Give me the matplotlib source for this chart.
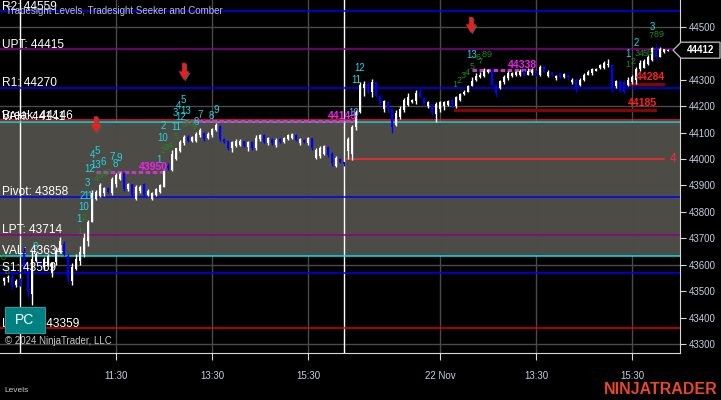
import numpy as np
import matplotlib.pyplot as plt
from matplotlib.patches import Rectangle, Polygon

plt.rcParams['font.family'] = ['Liberation Sans', 'DejaVu Sans']

# --- levels (Tradesight Levels) ---
level_names = ['R2', 'UPT', 'R1', 'VAH', 'Break', 'Pivot', 'LPT', 'VAL', 'S1', 'LBreak']
level_values = [44559, 44415, 44270, 44141, 44146, 43858, 43714, 43634, 43569, 43359]
level_colors = ['#0000ff', '#8b008b', '#0000ff', '#00e5e5', '#ff1a1a',
                '#0000ff', '#8b008b', '#00e5e5', '#0000ff', '#e00000']

# --- 5 min bars (open, high, low, close), slot 1..167 ---
prev_bars = [(43540, 43555, 43525, 43548), (43548, 43560, 43535, 43552),
             (43552, 43570, 43510, 43525), (43525, 43545, 43515, 43540),
             (43540, 43548, 43520, 43525)]
day1_bars = [
    (43650, 43667, 43569, 43580), (43585, 43592, 43478, 43495), (43490, 43656, 43448, 43620),
    (43615, 43650, 43610, 43640), (43615, 43618, 43590, 43595), (43590, 43630, 43580, 43620),
    (43600, 43640, 43595, 43635), (43570, 43611, 43555, 43605), (43610, 43667, 43600, 43650),
    (43650, 43706, 43645, 43690), (43680, 43690, 43635, 43640), (43635, 43640, 43530, 43545),
    (43540, 43605, 43523, 43590), (43585, 43640, 43580, 43620), (43615, 43670, 43600, 43650),
    (43640, 43720, 43630, 43700), (43690, 43770, 43670, 43760), (43760, 43883, 43760, 43870),
    (43850, 43883, 43845, 43875), (43860, 43910, 43855, 43900), (43870, 43895, 43860, 43890),
    (43890, 43895, 43870, 43875), (43870, 43932, 43865, 43925), (43905, 43948, 43895, 43940),
    (43925, 43950, 43920, 43945), (43948, 43950, 43880, 43885), (43885, 43910, 43880, 43905),
    (43905, 43905, 43860, 43865), (43850, 43902, 43845, 43895), (43880, 43900, 43870, 43895),
    (43905, 43910, 43860, 43865), (43865, 43885, 43860, 43880), (43850, 43875, 43845, 43870),
    (43865, 43890, 43860, 43885), (43875, 43905, 43870, 43900), (43895, 43960, 43895, 43955),
    (43975, 43985, 43960, 43965), (43960, 44035, 43955, 44020), (44000, 44042, 43995, 44040),
    (44030, 44072, 44025, 44065), (44060, 44091, 44053, 44085), (44085, 44090, 44065, 44070),
    (44070, 44088, 44066, 44082), (44070, 44102, 44065, 44095), (44090, 44118, 44085, 44110),
    (44100, 44102, 44070, 44075), (44080, 44102, 44075, 44095), (44090, 44118, 44085, 44112),
    (44110, 44138, 44105, 44130), (44125, 44130, 44068, 44075), (44075, 44078, 44060, 44065),
    (44070, 44072, 44035, 44040), (44040, 44070, 44025, 44065), (44050, 44075, 44045, 44070),
    (44055, 44075, 44050, 44070), (44068, 44070, 44045, 44050), (44045, 44070, 44030, 44065),
    (44065, 44068, 44035, 44040), (44040, 44090, 44035, 44080), (44075, 44095, 44070, 44090),
    (44090, 44093, 44062, 44065), (44060, 44085, 44055, 44080), (44075, 44078, 44053, 44060),
    (44055, 44078, 44045, 44072), (44075, 44078, 44062, 44065), (44065, 44082, 44062, 44080),
    (44075, 44095, 44072, 44090), (44080, 44100, 44075, 44095), (44090, 44095, 44068, 44072),
    (44060, 44078, 44055, 44075), (44072, 44076, 44062, 44064), (44060, 44085, 44055, 44080),
    (44078, 44080, 44035, 44040), (44005, 44042, 44000, 44035), (44010, 44048, 44005, 44040),
    (44020, 44055, 44015, 44050), (44045, 44050, 44008, 44015), (44020, 44025, 43975, 43985),
    (43975, 44010, 43970, 44005), (44000, 44005, 43985, 43990), (43990, 43990, 43975, 43980)]
day2_bars = [
    (44030, 44085, 44000, 44075), (44020, 44130, 43995, 44120), (44120, 44185, 44110, 44180),
    (44180, 44290, 44175, 44280), (44270, 44295, 44240, 44285), (44285, 44290, 44250, 44255),
    (44255, 44303, 44235, 44290), (44290, 44295, 44235, 44240), (44240, 44245, 44205, 44210),
    (44190, 44225, 44180, 44220), (44215, 44220, 44175, 44190), (44190, 44195, 44100, 44120),
    (44130, 44185, 44125, 44175), (44160, 44200, 44150, 44190), (44185, 44230, 44180, 44225),
    (44205, 44250, 44200, 44235), (44215, 44228, 44212, 44225), (44220, 44260, 44210, 44250),
    (44255, 44265, 44230, 44235), (44230, 44235, 44205, 44210), (44200, 44220, 44195, 44215),
    (44210, 44210, 44165, 44175), (44170, 44215, 44140, 44210), (44190, 44220, 44180, 44215),
    (44200, 44220, 44185, 44215), (44205, 44225, 44200, 44220), (44225, 44230, 44195, 44200),
    (44200, 44240, 44195, 44235), (44225, 44250, 44220, 44245), (44245, 44262, 44243, 44255),
    (44255, 44280, 44255, 44275), (44275, 44310, 44275, 44295), (44300, 44325, 44295, 44315),
    (44310, 44330, 44305, 44320), (44315, 44345, 44310, 44335), (44330, 44340, 44325, 44338),
    (44338, 44340, 44275, 44280), (44280, 44285, 44235, 44250), (44270, 44300, 44265, 44295),
    (44290, 44320, 44285, 44310), (44305, 44335, 44300, 44325), (44315, 44330, 44310, 44325),
    (44318, 44335, 44315, 44330), (44320, 44340, 44315, 44335), (44335, 44338, 44315, 44320),
    (44320, 44343, 44318, 44335), (44325, 44343, 44320, 44338), (44335, 44338, 44315, 44320),
    (44320, 44356, 44315, 44350), (44350, 44356, 44328, 44330), (44315, 44337, 44310, 44330),
    (44330, 44330, 44315, 44320), (44305, 44320, 44300, 44315), (44325, 44328, 44305, 44310),
    (44310, 44325, 44305, 44322), (44320, 44322, 44300, 44305), (44290, 44305, 44285, 44300),
    (44300, 44305, 44255, 44260), (44280, 44305, 44275, 44300), (44300, 44325, 44295, 44318),
    (44320, 44337, 44318, 44330), (44325, 44345, 44320, 44340), (44335, 44345, 44332, 44342),
    (44345, 44360, 44342, 44355), (44345, 44370, 44340, 44365), (44355, 44378, 44350, 44360),
    (44355, 44358, 44255, 44265), (44275, 44300, 44270, 44295), (44295, 44300, 44255, 44262),
    (44290, 44300, 44250, 44255), (44280, 44310, 44275, 44300), (44290, 44320, 44285, 44310),
    (44300, 44350, 44285, 44340), (44340, 44375, 44335, 44365), (44345, 44380, 44345, 44370),
    (44360, 44394, 44355, 44385), (44375, 44425, 44370, 44420), (44420, 44435, 44380, 44385),
    (44385, 44425, 44385, 44415), (44405, 44418, 44400, 44415), (44410, 44415, 44408, 44412)]

tick_slots = [29, 53, 77, 110, 134, 158]
tick_labels = ['11:30', '13:30', '15:30', '22 Nov', '13:30', '15:30']
session_breaks = [5, 85.9]

# Seeker / Comber counts: (text, slot, price)
cyan_counts = [('1', 19.75, 43773), ('10', 21, 43819), ('2', 20.5, 43860), ('11', 22, 43860),
               ('3', 21.75, 43910), ('12', 22.5, 43963), ('13', 24, 43978), ('6', 25.75, 43989),
               ('4', 23, 44016), ('5', 24.25, 44031), ('7', 28, 44008), ('9', 29.75, 44004),
               ('8', 28.75, 43981), ('8', 8.75, 43667), ('1', 39.75, 43997), ('10', 40.75, 44080),
               ('2', 40.75, 44125), ('11', 44, 44122), ('3', 43.75, 44174), ('12', 45.25, 44159),
               ('13', 46.5, 44182), ('4', 44.75, 44201), ('5', 45.75, 44224), ('8', 49, 44140),
               ('7', 50, 44167), ('8', 52.75, 44163), ('9', 54, 44186), ('10', 88.5, 44175),
               ('11', 89, 44299), ('12', 90, 44345), ('13', 118, 44394), ('1', 157, 44398),
               ('2', 159, 44439), ('3', 163, 44500)]
green_counts = [('8', 0.75, 43629), ('8', 1.75, 43573), ('1', 20, 43724), ('2', 21, 43777),
                ('4', 24, 43928), ('5', 25, 43936), ('6', 26, 43944), ('7', 27, 43951),
                ('2', 40.75, 44034), ('3', 41.5, 44042), ('4', 42.5, 44053), ('5', 44, 44084),
                ('6', 46, 44129), ('7', 46.75, 44137), ('8', 47.75, 44133), ('9', 48.5, 44125),
                ('1', 113.75, 44284), ('2', 114.75, 44299), ('3', 115.75, 44315),
                ('4', 116.75, 44326), ('5', 118, 44352), ('6', 119.5, 44383), ('7', 120, 44371),
                ('8', 121, 44394), ('9', 122.25, 44394), ('1', 157, 44356), ('2', 158.25, 44368),
                ('3', 159.25, 44398), ('4', 160.25, 44398), ('5', 161.25, 44398),
                ('6', 162.25, 44405), ('7', 162.75, 44466), ('8', 164, 44470), ('9', 165.25, 44470)]

# magenta targets: (value, start slot, end slot, label slot)
magenta_targets = [(43950, 24, 41.5, 38.25), (44338, 118, 134, 130.5), (44143, 46, 89, 85.5)]
# dark red levels: (value, start slot, end slot, label slot)
red_targets = [(44185, 113.75, 163.75, 160.5), (44284, 157, 165.75, 162.5)]
sell_arrows = [(24, 44162, 44099), (46, 44364, 44299), (117.75, 44538, 44477)]
last_price = 44412

# ------------------------------------------------------------------
fig = plt.figure(figsize=(7.21, 4.0), dpi=100, facecolor='black')
ax = fig.add_axes([0, 47 / 400, 680 / 721, 353 / 400])
ax.set_facecolor('black')
ax.set_xlim(0, 170)
ax.set_ylim(43266, 44602)

# value area shading
ax.axhspan(level_values[7], level_values[3], color='#4d4b45', zorder=0.5, lw=0)

# grid
for s in tick_slots:
    ax.axvline(s, color='#4a4a4a', lw=1, zorder=1)
for v in [43300, 43600, 43900, 44200, 44500]:
    ax.axhline(v, color='#4a4a4a', lw=1, zorder=1)
for s in session_breaks:
    ax.axvline(s, color='white', lw=1, zorder=1.5)

# level lines and labels
for name, v, col in zip(level_names, level_values, level_colors):
    ax.axhline(v, color=col, lw=1.1, zorder=2)
for name, v in zip(level_names, level_values):
    ax.annotate(f'{name}: {v}', (0.4, v), xytext=(0, 1.2), textcoords='offset points',
                va='baseline', ha='left', color='white', fontsize=8.6, zorder=6)

ax.plot([86.5, 166], [44000, 44000], color='#ff2a2a', lw=1.1, zorder=2)
ax.text(168.3, 44000, '4', color='#ff2a2a', fontsize=8.5, ha='center', va='center', zorder=6)

for v, a, b, ls in magenta_targets:
    ax.plot([a, b], [v, v], color='#c03cc0', lw=2.2, ls=(0, (1.5, 0.8)), zorder=2.5)
    ax.text(ls, v, str(v), color='#f020f0', fontsize=7.6, fontweight='bold',
            ha='center', va='bottom', zorder=6)
for v, a, b, ls in red_targets:
    ax.plot([a, b], [v, v], color='#8b0000', lw=2.2, zorder=2.5)
    ax.text(ls, v + 8, str(v), color='#ff2020', fontsize=7.6, fontweight='bold',
            ha='center', va='bottom', zorder=6)

# candles
bars = np.array(prev_bars + day1_bars + day2_bars, dtype=float)
slots = np.arange(1, len(bars) + 1)
o, h, l, c = bars.T
cols = np.where(c >= o, 'white', '#0000ff')
ax.vlines(slots, l, h, colors=cols, lw=1, zorder=3)
body = np.maximum(np.abs(c - o), 2)
ax.bar(slots, body, bottom=np.minimum(o, c), width=0.55, color=cols, lw=0, zorder=3)

# counts
for t, x, y in cyan_counts:
    ax.text(x, y, t, color='#19d9e3', fontsize=7, ha='center', va='center', zorder=5)
for t, x, y in green_counts:
    ax.text(x, y, t, color='#1e8c1e', fontsize=6.5, ha='center', va='center', zorder=5)

# sell arrows (red with a grey shadow)
arrow_style = 'simple,head_width=0.85,head_length=0.7,tail_width=0.3'
for x, y0, y1 in sell_arrows:
    ax.annotate('', xy=(x + 0.35, y1 - 5), xytext=(x + 0.35, y0 - 5),
                arrowprops=dict(arrowstyle=arrow_style, mutation_scale=9, color='#555555',
                                lw=0, shrinkA=0, shrinkB=0), zorder=6)
    ax.annotate('', xy=(x, y1), xytext=(x, y0),
                arrowprops=dict(arrowstyle=arrow_style, mutation_scale=9, color='#e82020',
                                lw=0, shrinkA=0, shrinkB=0), zorder=6)

# axes styling
for sp in ['top', 'left']:
    ax.spines[sp].set_visible(False)
for sp in ['right', 'bottom']:
    ax.spines[sp].set_color('#d8d8d8')
ax.yaxis.tick_right()
ax.set_yticks(np.arange(43300, 44501, 100))
ax.set_xticks(tick_slots)
ax.set_xticklabels(tick_labels)
ax.tick_params(axis='y', colors='#d8d8d8', labelcolor='#c4d0e0', labelsize=7, length=4, pad=2)
ax.tick_params(axis='x', colors='#d8d8d8', labelcolor='#c4d0e0', labelsize=7, length=5, pad=8)

# texts
fig.text(6 / 721, 1 - 11 / 400, 'Tradesight Levels, Tradesight Seeker and Comber',
         color='#bcbccc', fontsize=7, va='center', ha='left')
fig.text(5 / 721, 1 - 341 / 400, '\u00a9 2024 NinjaTrader, LLC', color='#c8c8c8',
         fontsize=7, va='center', ha='left')
fig.text(4 / 721, 1 - 390 / 400, 'Levels', color='#c8c8c8', fontsize=6, va='center')
fig.text(718 / 721, 1 - 389 / 400, 'NINJATRADER', color='#e8482a', fontsize=11.5,
         fontweight='bold', ha='right', va='center')

# PC box
fig.add_artist(Rectangle((5 / 721, 1 - 333 / 400), 40 / 721, 26 / 400,
                         transform=fig.transFigure, fc='#008080', ec='#20a0a0', lw=0.8))
fig.text(25 / 721, 1 - 320 / 400, 'PC', color='white', fontsize=10, ha='center', va='center')

# last price marker
yfig = fig.transFigure.inverted().transform(ax.transData.transform((0, last_price)))[1]
dy = 8 / 400
pts = [(673 / 721, yfig), (681 / 721, yfig + dy), (720 / 721, yfig + dy),
       (720 / 721, yfig - dy), (681 / 721, yfig - dy)]
fig.add_artist(Polygon(pts, closed=True, transform=fig.transFigure, fc='black',
                       ec='#b0b0b0', lw=1))
fig.text(701 / 721, yfig, str(last_price), color='white', fontsize=7, fontweight='bold',
         ha='center', va='center')

fig.savefig('out.png', dpi=100, facecolor='black')
